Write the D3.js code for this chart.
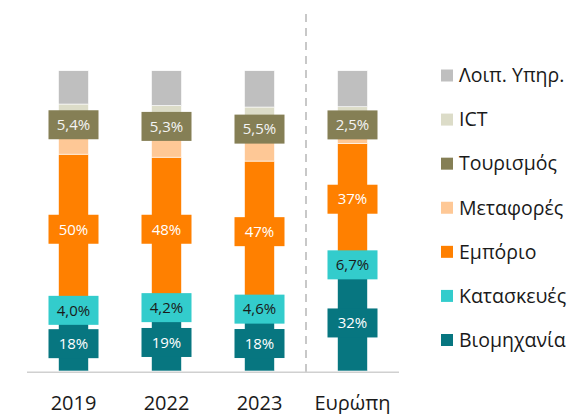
<!DOCTYPE html>
<html>
<head>
<meta charset="utf-8">
<script src="https://cdn.jsdelivr.net/npm/d3@7"></script>
<style>
  body { margin: 0; background: #fff; }
  svg { display: block; font-family: "Open Sans", "Noto Sans", sans-serif; }
</style>
</head>
<body>
<svg id="chart" width="575" height="414"></svg>
<script>
// categories on the x axis
const categories = ["2019", "2022", "2023", "Ευρώπη"];

// series, bottom to top of the stack (shares in %)
const seriesNames = ["Βιομηχανία", "Κατασκευές", "Εμπόριο", "Μεταφορές", "Τουρισμός", "ICT", "Λοιπ. Υπηρ."];
const industry     = [18.2, 19.0, 18.3, 32.0];
const construction = [4.0, 4.2, 4.6, 6.7];
const trade        = [50.0, 48.0, 47.0, 37.0];
const transport    = [7.1, 7.6, 7.9, 5.0];
const tourism      = [5.4, 5.3, 5.5, 2.5];
const ict          = [4.2, 4.3, 4.6, 4.8];
const otherServ    = [11.1, 11.6, 12.1, 12.0];

const colors = ["#077680", "#33cccc", "#ff8000", "#fec896", "#857f55", "#dcdcc8", "#bfbfbf"];
// which series get a value box, and the text colour in it
const labelled = { "Βιομηχανία": "#ffffff", "Κατασκευές": "#1a1a1a", "Εμπόριο": "#ffffff", "Τουρισμός": "#f4f4f4" };

const values = [industry, construction, trade, transport, tourism, ict, otherServ];

const rows = categories.map((c, i) => {
  const r = { cat: c };
  seriesNames.forEach((s, j) => { r[s] = values[j][i]; });
  return r;
});

const svg = d3.select("#chart");

const x = d3.scaleBand().domain(categories).range([27, 399]);
const y = d3.scaleLinear().domain([0, 100]).range([371, 70.7]);
const barW = 30;
const color = d3.scaleOrdinal().domain(seriesNames).range(colors);

const stack = d3.stack().keys(seriesNames)(rows);

const fmt = v => v >= 10 ? Math.round(v) + "%" : v.toFixed(1).replace(".", ",") + "%";

// divider before Europe
const divX = x("Ευρώπη");
svg.append("line")
  .attr("x1", divX).attr("x2", divX)
  .attr("y1", 14).attr("y2", 372)
  .attr("stroke", "#c8c8c8")
  .attr("stroke-width", 2)
  .attr("stroke-dasharray", "8,6");

// bars
svg.append("g")
  .selectAll("g")
  .data(stack)
  .join("g")
  .attr("fill", d => color(d.key))
  .selectAll("rect")
  .data(d => d)
  .join("rect")
  .attr("x", d => x(d.data.cat) + x.bandwidth() / 2 - barW / 2)
  .attr("y", d => y(d[1]))
  .attr("width", barW)
  .attr("height", d => y(d[0]) - y(d[1]))
  .attr("stroke", "#ffffff")
  .attr("stroke-width", 0.6);

// axis line
svg.append("line")
  .attr("x1", x.range()[0]).attr("x2", x.range()[1])
  .attr("y1", 372.3).attr("y2", 372.3)
  .attr("stroke", "#d0d0d0")
  .attr("stroke-width", 1.5);

// value boxes
const boxW = 50, boxH = 29;
const labels = svg.append("g");
stack.filter(s => labelled[s.key]).forEach(s => {
  s.forEach(d => {
    const cx = x(d.data.cat) + x.bandwidth() / 2;
    const cy = (y(d[0]) + y(d[1])) / 2;
    const g = labels.append("g").attr("transform", `translate(${cx},${cy})`);
    g.append("rect")
      .attr("x", -boxW / 2).attr("y", -boxH / 2)
      .attr("width", boxW).attr("height", boxH)
      .attr("fill", color(s.key));
    g.append("text")
      .attr("text-anchor", "middle")
      .attr("dy", "0.35em")
      .attr("font-size", 15)
      .attr("fill", labelled[s.key])
      .text(fmt(d[1] - d[0]));
  });
});

// category labels
svg.append("g")
  .selectAll("text")
  .data(categories)
  .join("text")
  .attr("x", d => x(d) + x.bandwidth() / 2)
  .attr("y", 410)
  .attr("text-anchor", "middle")
  .attr("font-size", 20)
  .attr("fill", "#1a1a1a")
  .text(d => d);

// legend, top to bottom
const legendItems = seriesNames.slice().reverse();
const legendY = d3.scalePoint().domain(legendItems).range([75.5, 340]);
const legend = svg.append("g")
  .selectAll("g")
  .data(legendItems)
  .join("g")
  .attr("transform", d => `translate(441,${legendY(d)})`);
legend.append("rect")
  .attr("x", 0).attr("y", -6)
  .attr("width", 12).attr("height", 12)
  .attr("fill", d => color(d));
legend.append("text")
  .attr("x", 18)
  .attr("dy", "0.35em")
  .attr("font-size", 19.5)
  .attr("fill", "#1a1a1a")
  .text(d => d);
</script>
</body>
</html>
